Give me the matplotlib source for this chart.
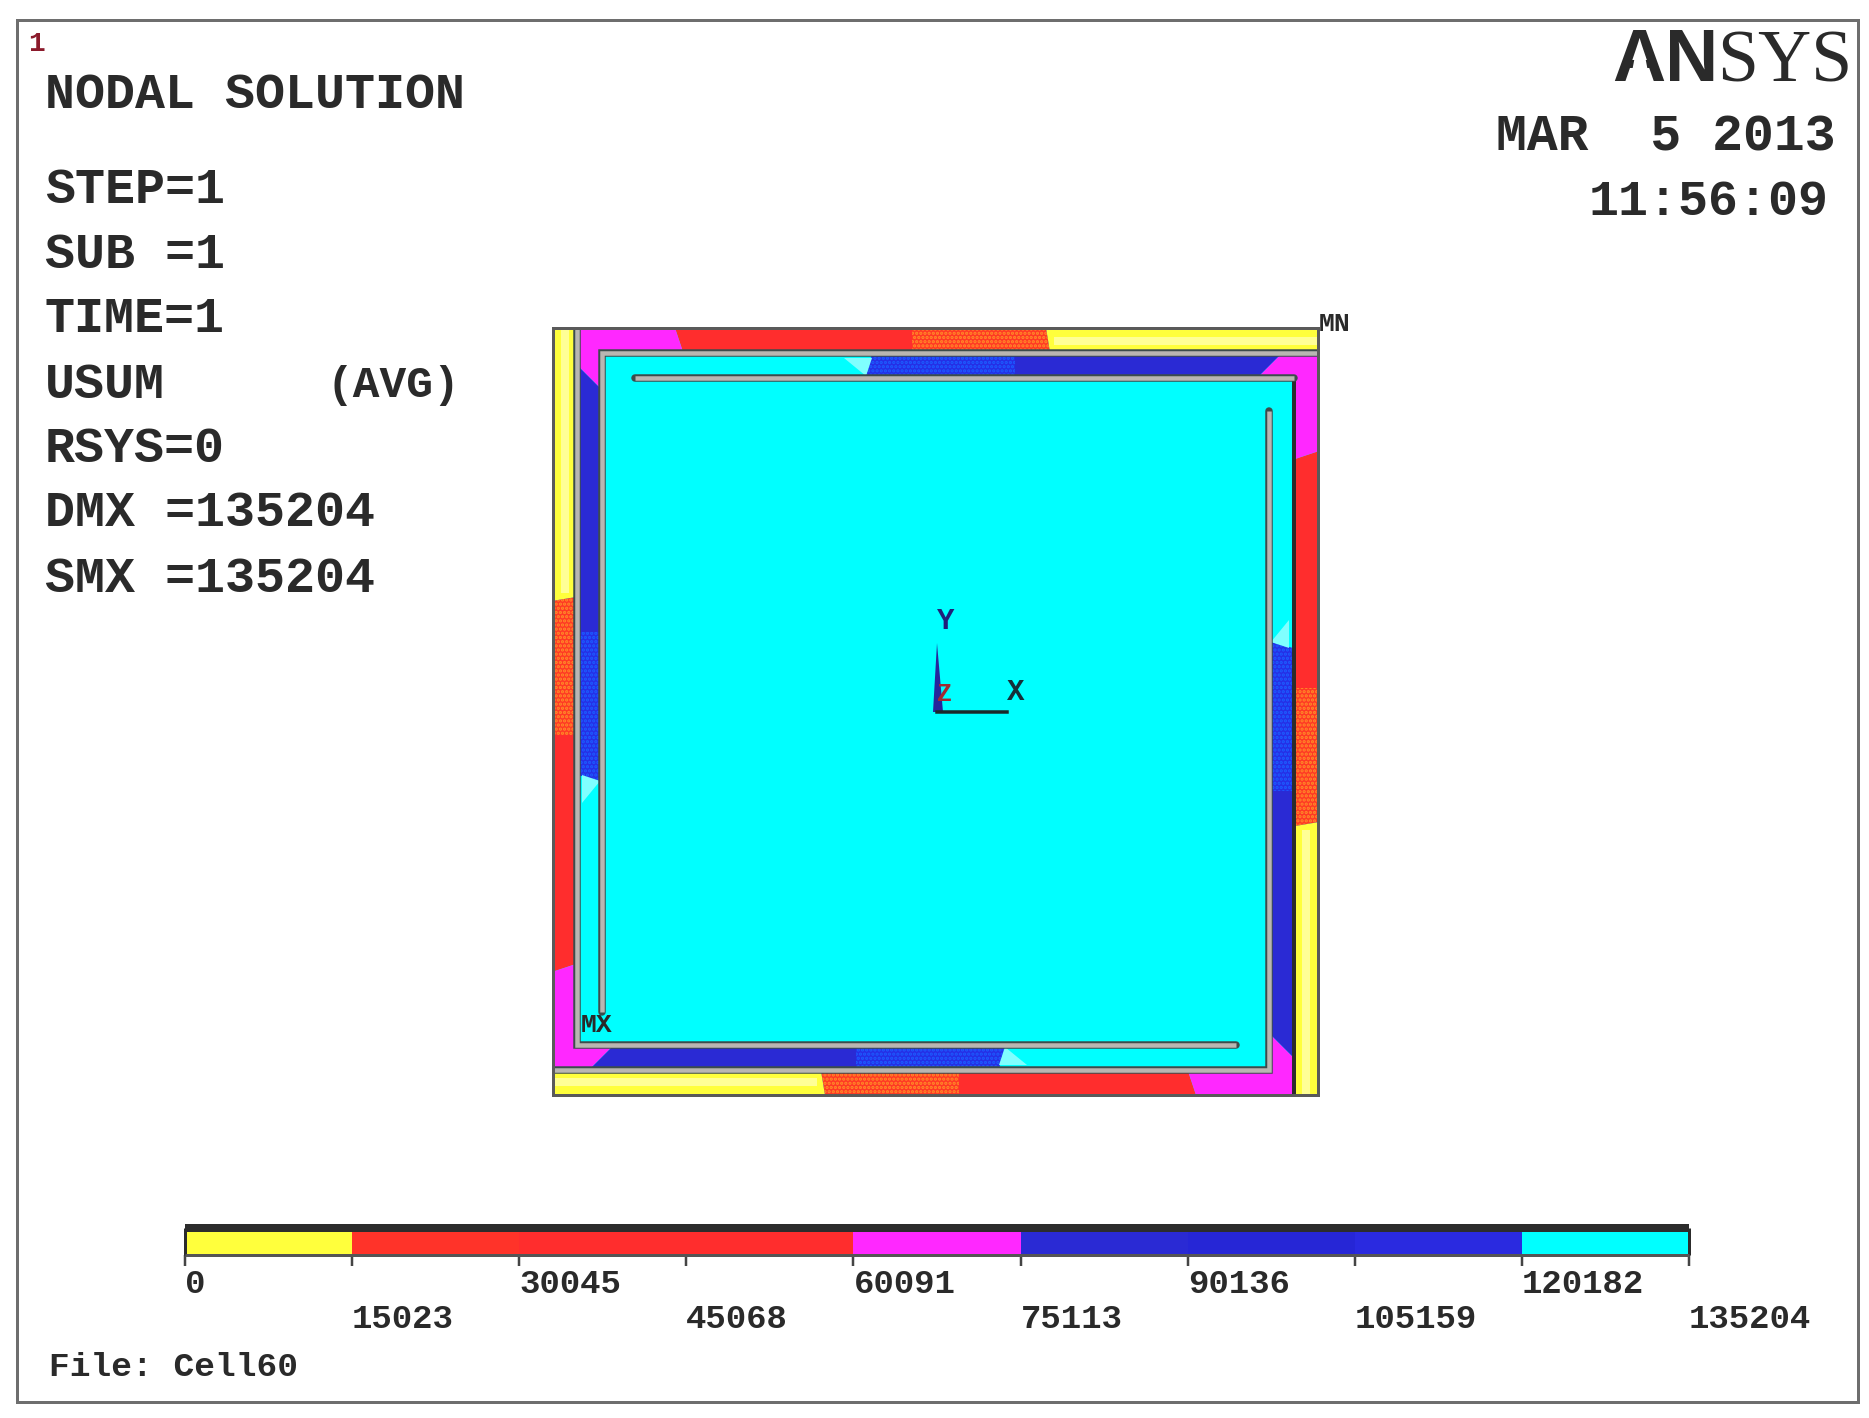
import matplotlib
matplotlib.use("Agg")
import matplotlib.pyplot as plt
from matplotlib.patches import Polygon, Rectangle

W, H = 1869, 1418
DPI = 100
PX = 72 / DPI  # one pixel in points

# contour levels of the legend bar
levels = [0, 15023, 30045, 45068, 60091, 75113, 90136, 105159, 120182, 135204]
level_labels = ["0", "15023", "30045", "45068", "60091", "75113", "90136", "105159", "120182", "135204"]
level_colors = ["#ffff3c", "#ff3329", "#ff2d2d", "#ff2d2d", "#ff28ff", "#2a2ad4", "#2626d6", "#2a2ae0", "#00ffff"]

# result panel text
info_labels = ["STEP=1", "SUB =1", "TIME=1", "USUM", "RSYS=0", "DMX =135204", "SMX =135204"]
info_rows = [190, 255, 319, 385, 449, 513, 579]

# bands along one spiral arm, measured from its tip (pixels of the picture)
outer_breaks = [0, 272, 406, 643]
outer_slant = [0, 4, 0, 8]
outer_colors = ["#ffff3c", "#ff3a24", "#ff2d2d"]
inner_breaks = [38, 304, 447]
inner_slant = [22, 0, 6]
inner_colors = ["#2a2ad4", "#2530e6"]

CX, CY = 935.5, 711.5
LEFT, RIGHT, TOP, BOTTOM = 553, 1318, 328, 1095
ROW_Y = (328, 352)
COL_X = (578, 600)
TXT = "#2a2a2a"
MONO = "Liberation Mono"


def rot(pts, turns):
    # quarter turns clockwise round the centre of the cell
    for _ in range(turns):
        pts = [(CX - (y - CY), CY + (x - CX)) for x, y in pts]
    return pts


def add_band(ax, pts, color, turns, dots=None):
    if dots:
        p = Polygon(rot(pts, turns), facecolor=color, edgecolor=dots, hatch="....", lw=0)
    else:
        p = Polygon(rot(pts, turns), facecolor=color, edgecolor="none", lw=0)
    ax.add_patch(p)


def draw_arm(ax, turns):
    y0, y1 = ROW_Y
    x0, x1 = COL_X
    xs = [RIGHT - d for d in outer_breaks]
    for i, c in enumerate(outer_colors):
        pts = [(xs[i], y0), (xs[i + 1], y0), (xs[i + 1] + outer_slant[i + 1], y1), (xs[i] + outer_slant[i], y1)]
        add_band(ax, pts, c, turns, dots="#ff8c28" if i == 1 else None)
    # pale streak down the yellow part, the scan washes it out
    add_band(ax, [(xs[0], y0 + 9), (xs[1] + 8, y0 + 9), (xs[1] + 8, y1 - 7), (xs[0], y1 - 7)], "#ffff96", turns)
    # magenta corner
    ys = [TOP + d for d in inner_breaks]
    corner = [(xs[3], y0), (x0, y0), (x0, ys[0]), (x1, ys[0] + inner_slant[0]), (x1, y1), (xs[3] + outer_slant[3], y1)]
    add_band(ax, corner, "#ff28ff", turns)
    for i, c in enumerate(inner_colors):
        pts = [(x0, ys[i]), (x1, ys[i] + inner_slant[i]), (x1, ys[i + 1] + inner_slant[i + 1]), (x0, ys[i + 1])]
        add_band(ax, pts, c, turns, dots="#1c5cff" if i == 1 else None)
    # pale wedge where the arm fades into the cyan
    add_band(ax, [(x0 + 4, ys[2]), (x1, ys[2] + inner_slant[2]), (x0 + 4, ys[2] + 28)], "#80ffff", turns)


def draw_gap(ax, turns, clip):
    long_run = rot([(RIGHT, 353), (602, 353)], turns)
    short_run = rot([(602, 353), (602, 1012)], turns)
    if turns == 1:
        # this run shows only as a thin dark seam in the picture
        seam, = ax.plot(*zip(*long_run), color="#2c2c2c", lw=4 * PX, solid_capstyle="butt", zorder=3)
        seam.set_clip_path(clip)
        ax.plot(*zip(*short_run), color="#3c4c4c", lw=7.5 * PX, solid_capstyle="round", zorder=3)
        ax.plot(*zip(*short_run), color="#b9b6b2", lw=4.5 * PX, solid_capstyle="butt", zorder=4)
        return
    path = long_run + short_run[1:]
    for color, lw, cap in (("#3c4c4c", 7.5, "round"), ("#b9b6b2", 4.5, "butt")):
        line, = ax.plot(*zip(*path), color=color, lw=lw * PX, solid_capstyle=cap,
                        solid_joinstyle="miter", zorder=3 if cap == "round" else 4)
        line.set_clip_path(clip)


fig = plt.figure(figsize=(W / DPI, H / DPI), dpi=DPI)
ax = fig.add_axes([0, 0, 1, 1])
ax.set_xlim(0, W)
ax.set_ylim(H, 0)
ax.axis("off")
plt.rcParams["hatch.linewidth"] = 1.6

ax.add_patch(Rectangle((17, 20), 1841, 1382, fill=False, edgecolor="#6e6e6e", lw=3 * PX))

cell = Rectangle((LEFT, TOP), RIGHT - LEFT, BOTTOM - TOP, facecolor="#00ffff", edgecolor="none")
ax.add_patch(cell)
for t in range(4):
    draw_arm(ax, t)
for t in range(4):
    draw_gap(ax, t, cell)
ax.add_patch(Rectangle((LEFT, TOP), RIGHT - LEFT, BOTTOM - TOP, fill=False, edgecolor="#5a5a5a", lw=3 * PX, zorder=5))

# global axis triad
ax.add_patch(Polygon([(933, 712), (943, 712), (937, 643)], facecolor="#26269c", edgecolor="none", zorder=6))
ax.plot([937, 1007], [712, 712], color="#1a2a2a", lw=3.5 * PX, zorder=6)
ax.text(946, 621, "Y", family=MONO, weight="bold", fontsize=21, color="#20207a", ha="center", va="center")
ax.text(1016, 692, "X", family=MONO, weight="bold", fontsize=21, color="#15303a", ha="center", va="center")
ax.text(945, 694, "Z", family=MONO, weight="bold", fontsize=18, color="#a02a30", ha="center", va="center", zorder=7)

ax.text(36, 44, "1", family=MONO, weight="bold", fontsize=20, color="#8b1a2b", ha="center", va="center")
ax.text(1335, 324, "MN", family=MONO, weight="bold", fontsize=19, color=TXT, ha="center", va="center", zorder=7)
ax.text(597, 1025, "MX", family=MONO, weight="bold", fontsize=19, color=TXT, ha="center", va="center", zorder=7)

ax.text(45, 95, "NODAL SOLUTION", family=MONO, weight="bold", fontsize=36, color=TXT, va="center")
for label, row in zip(info_labels, info_rows):
    ax.text(45, row, label, family=MONO, weight="bold", fontsize=36, color=TXT, va="center")
ax.text(327, 385, "(AVG)", family=MONO, weight="bold", fontsize=32, color=TXT, va="center")

ax.text(1836, 137, "MAR  5 2013", family=MONO, weight="bold", fontsize=37, color=TXT, ha="right", va="center")
ax.text(1829, 202, "11:56:09", family=MONO, weight="bold", fontsize=36, color=TXT, ha="right", va="center")

ax.text(1612, 81, "AN", family="Liberation Sans", weight="bold", fontsize=53, color=TXT, ha="left", va="baseline")
ax.text(1852, 81, "SYS", family="Liberation Serif", fontsize=53, color=TXT, ha="right", va="baseline")
# the logo's A has no crossbar
ax.add_patch(Polygon([(1630, 82), (1650, 82), (1645, 56), (1635, 56)], facecolor="white", edgecolor="none", zorder=8))

ax.text(49, 1368, "File: Cell60", family=MONO, weight="bold", fontsize=24.8, color=TXT, va="center")

# legend bar on its own value axis
cax = fig.add_axes([185 / W, 1 - 1255 / H, (1689 - 185) / W, (1255 - 1228) / H])
cax.barh(0, [b - a for a, b in zip(levels[:-1], levels[1:])], left=levels[:-1], height=1, color=level_colors)
cax.set_xlim(levels[0], levels[-1])
cax.set_ylim(-0.5, 0.5)
cax.set_yticks([])
cax.set_xticks(levels, level_labels, family=MONO, weight="bold", fontsize=24.5, color=TXT, ha="left")
cax.tick_params(axis="x", length=11 * PX, width=2.5 * PX, color="#444444")
for i, tick in enumerate(cax.xaxis.get_major_ticks()):
    tick.set_pad(2 if i % 2 == 0 else 27)
for side, width, color in (("top", 8, "#2c2c2c"), ("bottom", 3, "#555555"), ("left", 3, "#2c2c2c"), ("right", 3, "#2c2c2c")):
    cax.spines[side].set_linewidth(width * PX)
    cax.spines[side].set_color(color)
    cax.spines[side].set_capstyle("butt")

fig.savefig("out.png", dpi=DPI, facecolor="white")
